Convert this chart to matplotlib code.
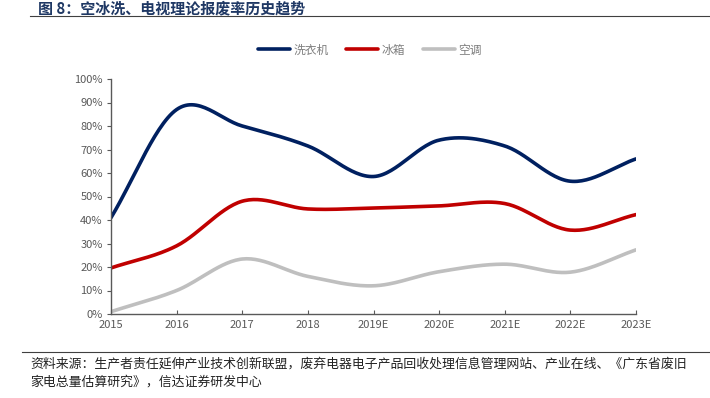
import numpy as np
import matplotlib
matplotlib.use("Agg")
import matplotlib.pyplot as plt
from matplotlib.lines import Line2D

plt.rcParams['font.family'] = ['Noto Sans CJK SC', 'DejaVu Sans']

years = ["2015", "2016", "2017", "2018", "2019E", "2020E", "2021E", "2022E", "2023E"]
washer = [41, 87, 80, 71.5, 58.5, 74, 71.5, 56.5, 66]
fridge = [19.6, 29, 48, 44.7, 45.1, 46, 47, 35.7, 42.3]
aircon = [1, 10, 23.4, 16, 12, 18, 21.2, 17.8, 27.3]
series_names = ["洗衣机", "冰箱", "空调"]
colors = ["#002060", "#C00000", "#BFBFBF"]
yticks = [0, 10, 20, 30, 40, 50, 60, 70, 80, 90, 100]
title = "图 8：空冰洗、电视理论报废率历史趋势"
source1 = "资料来源：生产者责任延伸产业技术创新联盟，废弃电器电子产品回收处理信息管理网站、产业在线、《广东省废旧"
source2 = "家电总量估算研究》，信达证券研发中心"


def catmull(x, y, n=30):
    x = np.asarray(x, float); y = np.asarray(y, float)
    px = np.concatenate([[2 * x[0] - x[1]], x, [2 * x[-1] - x[-2]]])
    py = np.concatenate([[2 * y[0] - y[1]], y, [2 * y[-1] - y[-2]]])
    xs, ys = [], []
    for i in range(1, len(px) - 2):
        t = np.linspace(0, 1, n, endpoint=(i == len(px) - 3))
        for arr, out in ((px, xs), (py, ys)):
            p0, p1, p2, p3 = arr[i - 1], arr[i], arr[i + 1], arr[i + 2]
            out.extend(0.5 * ((2 * p1) + (-p0 + p2) * t + (2 * p0 - 5 * p1 + 4 * p2 - p3) * t ** 2
                              + (-p0 + 3 * p1 - 3 * p2 + p3) * t ** 3))
    return np.array(xs), np.array(ys)


fig = plt.figure(figsize=(7.10, 3.98), dpi=100)
ax = fig.add_axes([111 / 710, 1 - 314 / 398, (636 - 111) / 710, (314 - 79) / 398])

xpos = np.arange(len(years))
for vals, c, name in zip([washer, fridge, aircon], colors, series_names):
    sx, sy = catmull(xpos, vals)
    ax.plot(sx, sy, color=c, lw=2.6, solid_capstyle='round', label=name)

ax.set_xlim(0, len(years) - 1)
ax.set_ylim(0, 100)
ax.set_yticks(yticks)
ax.set_yticklabels([f"{v}%" for v in yticks])
ax.set_xticks(xpos)
ax.set_xticklabels(years)
for s in ['top', 'right']:
    ax.spines[s].set_visible(False)
for s in ['left', 'bottom']:
    ax.spines[s].set_color('#595959')
    ax.spines[s].set_linewidth(1.0)
ax.tick_params(axis='y', direction='out', length=3, color='#595959', labelcolor='#595959', labelsize=8, pad=3)
ax.tick_params(axis='x', direction='in', length=3, color='#595959', labelcolor='#595959', labelsize=8, pad=4)

handles = [Line2D([0], [0], color=c, lw=2.6, solid_capstyle='round') for c in colors]
leg = fig.legend(handles, series_names, loc='center', bbox_to_anchor=(370 / 710, 1 - 50 / 398),
                 ncol=3, frameon=False, fontsize=8.5, handlelength=2.7, handletextpad=0.3,
                 columnspacing=1.5)
for t in leg.get_texts():
    t.set_color('#7F7F7F')

fig.text(38 / 710, 1 - 8 / 398, title, fontsize=10.8, fontweight='bold', color='#1F3864',
         va='center', ha='left')
fig.add_artist(Line2D([30 / 710, 1], [1 - 16 / 398, 1 - 16 / 398], color='#404040', lw=0.8))
fig.add_artist(Line2D([22 / 710, 1], [1 - 352 / 398, 1 - 352 / 398], color='#404040', lw=0.8))
fig.text(30 / 710, 1 - 364 / 398, source1, fontsize=9.3, color='#222222', va='center', ha='left')
fig.text(30 / 710, 1 - 382 / 398, source2, fontsize=9.3, color='#222222', va='center', ha='left')

fig.savefig("out.png", dpi=100)
